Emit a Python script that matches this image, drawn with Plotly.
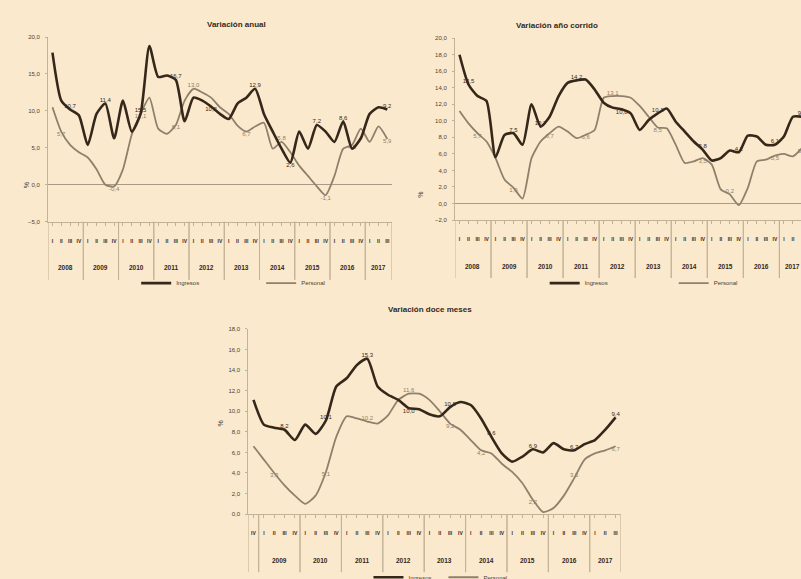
import plotly.graph_objects as go

# ---------------- data ----------------
quarters = ["I", "II", "III", "IV"]
years = ["2008", "2009", "2010", "2011", "2012", "2013", "2014", "2015", "2016", "2017"]

# Variación anual (2008-I .. 2017-III)
anual_ingresos = [17.9, 11.4, 10.2, 9.4, 5.4, 9.6, 11.0, 6.3, 11.4, 7.2, 9.6, 18.8, 14.6, 14.8,
                  14.2, 8.6, 11.8, 11.4, 10.6, 9.6, 8.9, 11.0, 11.8, 13.0, 9.6, 7.2, 4.9, 3.0,
                  7.2, 4.9, 8.1, 7.2, 5.8, 8.6, 4.9, 6.3, 9.6, 10.5, 10.2]
anual_personal = [10.5, 7.2, 5.4, 4.4, 3.7, 2.1, 0.0, -0.2, 2.1, 6.8, 9.6, 11.8, 7.6, 6.9,
                  8.1, 11.4, 13.0, 12.5, 11.8, 10.5, 9.6, 8.0, 7.2, 7.9, 8.4, 4.9, 5.8, 4.4,
                  2.6, 1.2, -0.2, -1.4, 1.2, 4.9, 5.4, 7.6, 5.8, 7.9, 6.2]
anual_ingresos_lbl = {2: "10,7", 6: "11,4", 10: "15,5", 14: "16,7", 18: "10,2", 23: "12,9",
                      27: "2,6", 30: "7,2", 33: "8,6", 38: "9,2"}
anual_personal_lbl = {1: "5,7", 7: "-0,4", 10: "12,1", 14: "8,1", 16: "13,0", 22: "6,7",
                      26: "5,8", 31: "-1,1", 34: "4,5", 38: "5,9"}

# Variación año corrido (2008-I .. 2017-III)
corrido_ingresos = [18.0, 14.4, 13.0, 12.4, 5.6, 8.3, 8.5, 7.1, 12.0, 9.3, 10.5, 13.0, 14.6, 14.9,
                    15.0, 13.8, 12.2, 11.6, 11.4, 10.9, 8.9, 10.1, 10.9, 11.5, 9.9, 8.7, 7.5, 6.5,
                    5.2, 5.5, 6.4, 6.2, 8.2, 8.1, 7.1, 7.1, 8.1, 10.5, 10.5]
corrido_personal = [11.2, 9.7, 8.5, 7.5, 5.5, 2.9, 1.9, 0.6, 5.5, 7.5, 8.5, 9.3, 8.7, 7.9,
                    8.3, 8.9, 12.8, 13.0, 13.0, 12.8, 11.8, 10.5, 9.2, 9.1, 7.1, 4.9, 5.1, 5.5,
                    4.7, 1.7, 1.1, -0.2, 1.9, 5.1, 5.3, 5.8, 6.0, 5.7, 6.7]
corrido_ingresos_lbl = {1: "13,5", 6: "7,5", 9: "10,7", 13: "14,2", 18: "10,8", 22: "10,1",
                        27: "5,8", 31: "4,2", 35: "6,1", 38: "9,8"}
corrido_personal_lbl = {2: "5,7", 6: "1,9", 10: "6,7", 14: "6,6", 17: "13,1", 22: "8,5",
                        27: "3,5", 30: "0,2", 35: "5,5", 38: "5,9"}

# Variación doce meses (2008-IV .. 2017-III)
doce_ingresos = [11.1, 8.7, 8.4, 8.2, 7.2, 8.7, 7.8, 9.1, 12.4, 13.2, 14.5, 15.1, 12.4, 11.6,
                 11.1, 10.3, 10.2, 9.7, 9.5, 10.4, 10.9, 10.6, 9.3, 7.5, 5.9, 5.1, 5.6, 6.3,
                 6.0, 6.9, 6.3, 6.2, 6.8, 7.2, 8.2, 9.4]
doce_personal = [6.6, 5.3, 4.0, 2.8, 1.8, 1.0, 1.8, 4.1, 7.5, 9.5, 9.3, 9.0, 8.8, 9.6,
                 11.1, 11.7, 11.7, 11.1, 10.0, 8.8, 8.2, 7.2, 6.2, 5.9, 4.9, 4.1, 3.0, 1.4,
                 0.2, 0.6, 1.8, 3.5, 5.3, 5.9, 6.2, 6.6]
doce_ingresos_lbl = {3: "8,2", 7: "10,1", 11: "15,3", 15: "10,0", 19: "10,8", 23: "8,6",
                     27: "6,9", 31: "6,7", 35: "9,4"}
doce_personal_lbl = {2: "3,3", 7: "5,1", 11: "10,2", 15: "11,6", 19: "9,2", 22: "4,2",
                     27: "2,2", 31: "3,5", 35: "6,7"}

series_names = ["Ingresos", "Personal"]
titles = ["Variación anual", "Variación año corrido", "Variación doce meses"]
unit = "%"

# ---------------- style ----------------
BG = "#fbe9cd"
DARK = "#35281b"
LIGHT = "#8e806a"
TXT = "#4d3e2c"
AXC = "#c2b296"
FONT = "Liberation Sans Narrow, Arial Narrow, Liberation Sans, sans-serif"
H = 579.0


def periods(start_q, n):
    yy, qq = [], []
    yi, q = 0, start_q
    for _ in range(n):
        yy.append(years[yi])
        qq.append(quarters[q])
        q += 1
        if q == 4:
            q = 0
            yi += 1
    return yy, qq


def positions(n, default, flip):
    other = "bottom center" if default == "top center" else "top center"
    return [(other if i in flip else default) for i in range(n)]


fig = go.Figure()

# (axis suffix, start quarter, dark, light, x-domain, y-domain, y-range, dtick, x-max,
#  legend x, legend y, entry width, title x, unit-label x, unit-label y)
panels = [
    ("", 0, (anual_ingresos, anual_ingresos_lbl, {18, 27}),
     (anual_personal, anual_personal_lbl, {16, 26}),
     [0.060, 0.489], [0.617, 0.936], [-5, 20], 5, None, 0.170, 0.511, 80, 0.256, 0.026, 0.0),
    ("2", 0, (corrido_ingresos, corrido_ingresos_lbl, {18}),
     (corrido_personal, corrido_personal_lbl, {17, 30}),
     [0.568, 1.0], [0.620, 0.934], [-2, 20], 2, 37.9, 0.680, 0.511, 84, 0.749, 0.525, 1.0),
    ("3", 3, (doce_ingresos, doce_ingresos_lbl, {15}),
     (doce_personal, doce_personal_lbl, {11, 15, 31}),
     [0.310, 0.775], [0.112, 0.432], [0, 18], 2, None, 0.460, 0.003, 30, 0.537, 0.269, 8.8),
]

layout = {}
annotations = []
shapes = []

for k, (sfx, sq, dark, light, xdom, ydom, yr, dt, xmax, lgx, lgy, ew, tx, ux, uy) in enumerate(panels):
    xa, ya = "x" + sfx, "y" + sfx
    lg = "legend" + sfx
    n = len(dark[0])
    yy, qq = periods(sq, n)
    xs = list(range(n))
    for (vals, lbl, flip), name, col, w, dpos in [
        (light, series_names[1], LIGHT, 1.8, "bottom center"),
        (dark, series_names[0], DARK, 2.6, "top center"),
    ]:
        fig.add_trace(go.Scatter(
            x=xs, y=vals, name=name, xaxis=xa, yaxis=ya, legend=lg,
            mode="lines+text", text=[lbl.get(i, "") for i in xs],
            textposition=positions(n, dpos, flip),
            textfont=dict(size=6, color=col, family=FONT),
            line=dict(color=col, width=w, shape="spline", smoothing=0.6),
        ))
    xr = [-0.5, xmax if xmax is not None else n - 0.5]
    layout["xaxis" + sfx] = dict(
        domain=xdom, anchor=ya, range=xr, tickmode="array", tickvals=xs,
        ticktext=["<b>" + q + "</b>" for q in qq],
        tickangle=0, ticks="outside", ticklen=3, tickcolor=AXC, ticklabelstandoff=11,
        tickfont=dict(size=5, color=DARK, family=FONT), showline=True, linecolor=AXC,
        linewidth=1, showgrid=False, zeroline=False)
    layout["yaxis" + sfx] = dict(
        domain=ydom, anchor=xa, range=yr, dtick=dt, tickformat=".1f", showgrid=False,
        showline=True, linecolor=AXC, linewidth=1, ticks="outside", ticklen=2, tickcolor=AXC,
        tickfont=dict(size=6, color=TXT, family=FONT), ticklabelstandoff=4,
        zeroline=True, zerolinecolor="#a89a86", zerolinewidth=1)
    layout[lg] = dict(orientation="h", x=lgx, xanchor="left", y=lgy, yanchor="middle",
                      font=dict(size=6, color=TXT, family=FONT), bgcolor="rgba(0,0,0,0)",
                      entrywidth=ew, traceorder="reversed", itemwidth=30)
    # title
    annotations.append(dict(text="<b>" + titles[k] + "</b>", x=tx,
                            y=ydom[1] + 0.033, xref="paper", yref="paper", showarrow=False,
                            font=dict(size=8, color=DARK, family=FONT)))
    # unit label
    annotations.append(dict(text=unit, x=ux, xref="paper", y=uy, yref=ya, showarrow=False,
                            textangle=-90, font=dict(size=7, color=TXT, family=FONT)))
    # year group labels and dividers
    groups = []
    for i, y in enumerate(yy):
        if not groups or groups[-1][0] != y:
            groups.append([y, i, i])
        else:
            groups[-1][2] = i
    ybase = ydom[0]
    for y, i0, i1 in groups:
        if i1 - i0 >= 1:
            annotations.append(dict(text="<b>" + y + "</b>", x=(i0 + i1) / 2, xref=xa,
                                    y=ybase - 46 / H, yref="paper", showarrow=False,
                                    yanchor="middle",
                                    font=dict(size=6.5, color=DARK, family=FONT)))
        for xb in (i0 - 0.5, i1 + 0.5):
            if xb <= xr[1]:
                shapes.append(dict(type="line", xref=xa, x0=xb, x1=xb, yref="paper",
                                   y0=ybase, y1=ybase - 58 / H,
                                   line=dict(color=AXC, width=1)))

fig.update_layout(
    width=801, height=579, autosize=False,
    margin=dict(l=0, r=0, t=0, b=0, autoexpand=False),
    paper_bgcolor=BG, plot_bgcolor=BG,
    separators=",.",
    font=dict(family=FONT, color=TXT, size=7),
    annotations=annotations, shapes=shapes,
    **layout,
)

fig.write_html("out.html", config={"displayModeBar": False},
               post_script="document.body.style.margin='0';")
